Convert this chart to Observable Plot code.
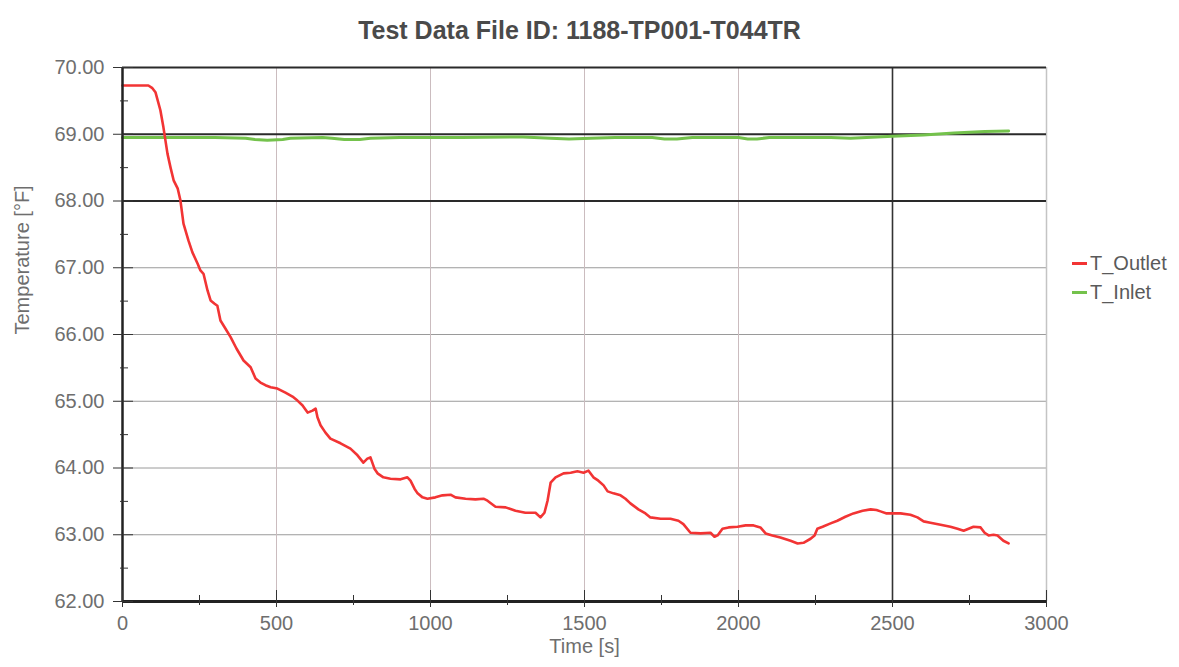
<!DOCTYPE html>
<html><head><meta charset="utf-8">
<script src="https://cdn.jsdelivr.net/npm/d3@7"></script>
<script src="https://cdn.jsdelivr.net/npm/@observablehq/plot@0.6"></script>
<style>
body{margin:0;background:#fff;}
#wrap{position:relative;width:1179px;height:667px;font-family:"Liberation Sans",Arial,sans-serif;}
.legend{position:absolute;left:1072px;font-size:20px;line-height:24px;color:#5a5a5a;display:flex;align-items:center;white-space:nowrap;}
.legend .sw{display:inline-block;width:15px;height:3px;margin-right:3px;}
</style></head><body><div id="wrap"></div>
<script>
const titleText = "Test Data File ID: 1188-TP001-T044TR";
const xLabel = "Time [s]";
const yLabel = "Temperature [°F]";
const seriesNames = ["T_Outlet", "T_Inlet"];
const seriesColors = ["#f23434", "#74c24c"];

const outletTime = [0,84,97,107,123,133,146,156,166,179,188,198,214,227,244,253,263,276,286,299,308,318,334,351,370,393,416,432,448,464,481,503,529,552,568,584,601,617,627,633,643,659,675,708,740,763,782,795,805,818,828,847,870,903,925,935,948,958,974,990,1016,1039,1065,1081,1114,1146,1172,1185,1211,1244,1276,1308,1341,1357,1370,1380,1390,1406,1432,1455,1477,1497,1513,1529,1545,1562,1575,1594,1617,1633,1649,1675,1698,1714,1747,1779,1805,1821,1844,1877,1909,1922,1932,1948,1968,1997,2023,2049,2071,2088,2110,2136,2169,2192,2211,2234,2247,2256,2273,2299,2321,2347,2373,2403,2429,2448,2461,2481,2500,2526,2558,2581,2601,2623,2656,2688,2711,2731,2747,2763,2786,2799,2812,2828,2841,2860,2877];
const outletTemp = [69.73,69.73,69.69,69.63,69.36,69.10,68.71,68.50,68.31,68.19,68.01,67.66,67.41,67.23,67.06,66.96,66.91,66.66,66.51,66.46,66.43,66.21,66.09,65.96,65.79,65.61,65.51,65.34,65.28,65.24,65.21,65.19,65.13,65.07,65.01,64.94,64.83,64.86,64.89,64.76,64.64,64.53,64.44,64.37,64.29,64.19,64.08,64.14,64.16,63.99,63.92,63.86,63.84,63.83,63.86,63.81,63.69,63.62,63.56,63.54,63.56,63.59,63.60,63.56,63.54,63.53,63.54,63.51,63.42,63.41,63.36,63.33,63.33,63.26,63.33,63.51,63.78,63.86,63.92,63.93,63.95,63.93,63.96,63.86,63.81,63.74,63.65,63.62,63.59,63.54,63.47,63.38,63.32,63.26,63.24,63.24,63.21,63.16,63.03,63.02,63.03,62.97,62.99,63.09,63.11,63.12,63.14,63.14,63.11,63.02,62.99,62.96,62.91,62.87,62.88,62.94,62.99,63.09,63.12,63.17,63.21,63.27,63.32,63.36,63.38,63.37,63.35,63.32,63.32,63.32,63.30,63.26,63.20,63.18,63.15,63.12,63.09,63.06,63.09,63.12,63.11,63.03,62.99,63.00,62.99,62.91,62.87];

const inletTime = [0,150,300,400,430,470,520,545,650,680,720,770,805,900,1100,1300,1390,1450,1520,1600,1720,1760,1800,1850,2000,2030,2060,2100,2300,2364,2450,2500,2600,2700,2800,2877];
const inletTemp = [68.95,68.95,68.95,68.94,68.92,68.91,68.92,68.94,68.95,68.94,68.92,68.92,68.94,68.95,68.95,68.96,68.94,68.93,68.94,68.95,68.95,68.93,68.93,68.95,68.95,68.93,68.93,68.95,68.95,68.94,68.96,68.97,68.99,69.02,69.04,69.05];

const yMajor = [62,63,64,65,66,67,68,69,70];
const yMinor = [62.5,63.5,64.5,65.5,66.5,67.5,68.5,69.5];
const xMajor = [0,500,1000,1500,2000,2500,3000];
const xMinor = [250,750,1250,1750,2250,2750];
const yLightGrid = [63,64,65,66,67];
const yDarkGrid = [68,69,70];
const xLightGrid = [500,1000,1500,2000];
const xDarkGrid = [2500];
const xEdge = [3000];

const outlet = outletTime.map((t,i)=>({t, v: outletTemp[i]}));
const inlet = inletTime.map((t,i)=>({t, v: inletTemp[i]}));

const chart = Plot.plot({
  width: 1179, height: 667,
  marginLeft: 122, marginRight: 133, marginTop: 67, marginBottom: 66,
  x: {domain: [0, 3000]},
  y: {domain: [62, 70]},
  style: {fontFamily: "'Liberation Sans', Arial, sans-serif", fontSize: "20px", background: "#fff", overflow: "visible"},
  marks: [
    Plot.ruleY(yLightGrid, {stroke: "#9a9a9a", strokeWidth: 1}),
    Plot.ruleX(xLightGrid, {stroke: "#cbbcbf", strokeWidth: 1}),
    Plot.ruleX(xEdge, {stroke: "#c4c4c4", strokeWidth: 1.5}),
    Plot.ruleX(xDarkGrid, {stroke: "#333", strokeWidth: 1.6}),
    Plot.ruleY(yDarkGrid, {stroke: "#2a2a2a", strokeWidth: 2}),
    Plot.line(inlet, {x: "t", y: "v", stroke: seriesColors[1], strokeWidth: 3}),
    Plot.line(outlet, {x: "t", y: "v", stroke: seriesColors[0], strokeWidth: 2.6}),
    Plot.ruleX([0], {stroke: "#222", strokeWidth: 2.5}),
    Plot.ruleY([62], {stroke: "#222", strokeWidth: 3}),
    Plot.axisY(yMajor, {anchor: "left", tickSize: 20, insetLeft: 11, tickPadding: 9, tickFormat: d3.format(".2f"), stroke: "#333", fill: "#6e6e6e", fontSize: 20, label: null}),
    Plot.axisY(yMinor, {anchor: "left", tickSize: 8, insetLeft: 6, tickFormat: () => "", stroke: "#333", label: null}),
    Plot.axisX(xMajor, {anchor: "bottom", tickSize: 17, insetBottom: 11, tickPadding: 8, tickFormat: d3.format("d"), stroke: "#333", fill: "#6e6e6e", fontSize: 20, label: null}),
    Plot.axisX(xMinor, {anchor: "bottom", tickSize: 10, insetBottom: 6, tickFormat: () => "", stroke: "#333", label: null}),
    Plot.text([yLabel], {frameAnchor: "left", dx: -100, rotate: -90, text: d => d, fill: "#6e6e6e", fontSize: 20}),
    Plot.text([xLabel], {frameAnchor: "bottom", dy: 51, text: d => d, fill: "#6e6e6e", fontSize: 20}),
    Plot.text([titleText], {frameAnchor: "top", dy: -46, dx: -5, text: d => d, fill: "#4a4a4a", fontSize: 25, fontWeight: "bold"})
  ]
});
const wrap = document.getElementById("wrap");
wrap.appendChild(chart);
seriesNames.forEach((name, i) => {
  const row = document.createElement("div");
  row.className = "legend";
  row.style.top = (251 + i * 29) + "px";
  row.innerHTML = `<span class="sw" style="background:${seriesColors[i]}"></span>${name}`;
  wrap.appendChild(row);
});
</script>
</body></html>
